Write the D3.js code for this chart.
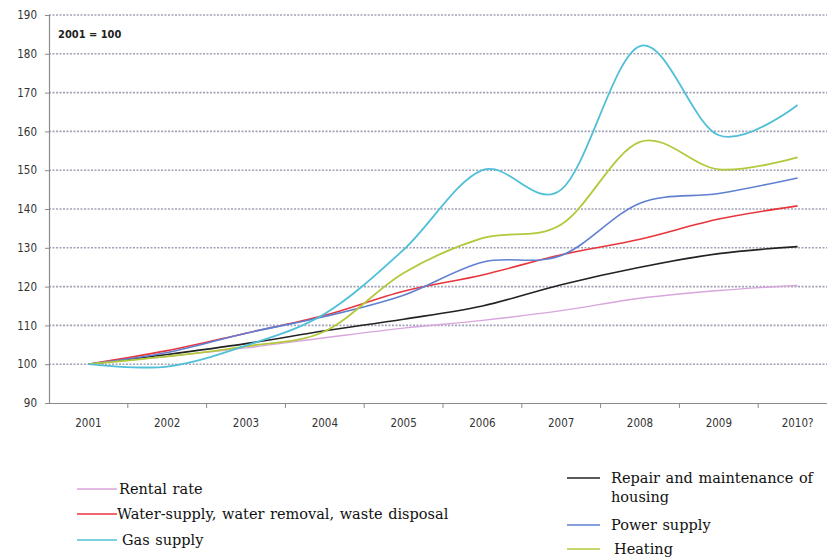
<!DOCTYPE html>
<html><head><meta charset="utf-8">
<script src="https://cdn.jsdelivr.net/npm/d3@7/dist/d3.min.js"></script>
<style>body{margin:0;background:#fff;}</style>
</head><body>
<svg id="c" width="827" height="560"></svg>
<script>
const years = ["2001","2002","2003","2004","2005","2006","2007","2008","2009","2010?"];
const yTicks = [90,100,110,120,130,140,150,160,170,180,190];
const rental = [100,102,104.2,106.8,109.3,111.3,113.8,117,119,120.3];
const water = [100,103.5,108,112.6,118.8,123,128.2,132.2,137.4,140.8];
const gas = [100,99.4,104.8,113,129.5,150,145,182,159,166.8];
const repair = [100,102.5,105.3,108.6,111.6,115,120.5,125,128.5,130.3];
const power = [100,103,108,112.3,117.8,126.3,128,141.5,144,148];
const heating = [100,102,104.6,108.5,123.5,132.5,136,157.3,150.2,153.3];

const series = [
  {name:"Rental rate", values:rental, color:"#d8a6dc", w:1.4},
  {name:"Water-supply, water removal, waste disposal", values:water, color:"#e8353c", w:1.6},
  {name:"Gas supply", values:gas, color:"#52bfd9", w:1.8},
  {name:"Repair and maintenance of|housing", values:repair, color:"#222222", w:1.6},
  {name:"Power supply", values:power, color:"#5f7fd0", w:1.6},
  {name:"Heating", values:heating, color:"#b4c83c", w:1.8}
];

const svg = d3.select("#c");
const x = d3.scaleBand().domain(years).range([49, 837]);
const y = d3.scaleLinear().domain([90,190]).range([403, 15]);

// gridlines
svg.append("g").selectAll("line").data(yTicks.filter(t=>t>90)).join("line")
  .attr("x1",49).attr("x2",827).attr("y1",d=>y(d)).attr("y2",d=>y(d))
  .attr("stroke","#a0a2b6").attr("stroke-width",1.6).attr("stroke-dasharray","2,1.5");

// y axis
const ya = svg.append("g").attr("transform","translate(49,0)")
  .call(d3.axisLeft(y).tickValues(yTicks).tickSize(4).tickPadding(8));
ya.select(".domain").attr("stroke","#8a8a8a").attr("stroke-width",1.2);
ya.selectAll(".tick line").attr("stroke","#8a8a8a");
ya.selectAll("text").attr("font-family","DejaVu Sans Condensed, DejaVu Sans").attr("font-size","11.5px").attr("fill","#333");

// x axis
const xa = svg.append("g").attr("transform","translate(0,403)")
  .call(d3.axisBottom(x).tickSize(0).tickPadding(16));
xa.select(".domain").attr("stroke","#8a8a8a").attr("stroke-width",1.2);
xa.selectAll("text").attr("font-family","DejaVu Sans Condensed, DejaVu Sans").attr("font-size","11.5px").attr("fill","#333");
svg.append("g").selectAll("line").data(years.slice(1)).join("line")
  .attr("x1",d=>x(d)).attr("x2",d=>x(d)).attr("y1",403).attr("y2",408)
  .attr("stroke","#8a8a8a");

// label
svg.append("text").attr("x",58).attr("y",38).text("2001 = 100")
  .attr("font-family","DejaVu Sans Condensed, DejaVu Sans").attr("font-weight","bold")
  .attr("font-size","11px").attr("fill","#222");

// lines
const line = d3.line().x((d,i)=>x(years[i])+x.bandwidth()/2).y(d=>y(d)).curve(d3.curveCardinal.tension(0));
const order = [0,3,1,4,5,2];
svg.append("g").selectAll("path").data(order.map(i=>series[i])).join("path")
  .attr("d",d=>line(d.values)).attr("fill","none")
  .attr("stroke",d=>d.color).attr("stroke-width",d=>d.w);

// legend
const legPos = [
  {x1:77,x2:117,tx:119,ty:494},
  {x1:77,x2:117,tx:117,ty:519},
  {x1:77,x2:117,tx:122,ty:545},
  {x1:567,x2:600,tx:611,ty:483},
  {x1:567,x2:600,tx:611,ty:530},
  {x1:567,x2:600,tx:614,ty:554}
];
const lg = svg.append("g");
series.forEach((s,i)=>{
  const p = legPos[i];
  const lines = s.name.split("|");
  const ly = p.ty - 5;
  lg.append("line").attr("x1",p.x1).attr("x2",p.x2).attr("y1",ly).attr("y2",ly)
    .attr("stroke",s.color).attr("stroke-width",1.6);
  lines.forEach((t,j)=>{
    lg.append("text").attr("x",p.tx).attr("y",p.ty + j*19).text(t)
      .attr("font-family","DejaVu Serif, serif").attr("font-size","14.5px")
      .attr("word-spacing","1px").attr("fill","#111");
  });
});
</script>
</body></html>
